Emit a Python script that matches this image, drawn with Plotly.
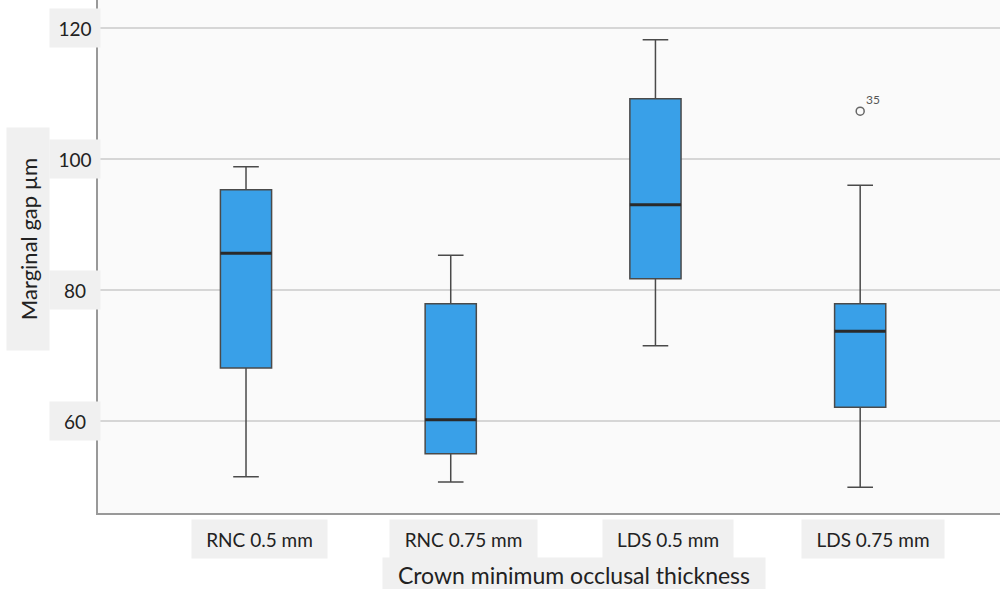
import plotly.graph_objects as go

# ---- data ----
categories = ["RNC 0.5 mm", "RNC 0.75 mm", "LDS 0.5 mm", "LDS 0.75 mm"]
lower_whisker = [51.5, 50.7, 71.5, 49.9]
q1_values = [68.1, 55.0, 81.7, 62.1]
median_values = [85.6, 60.2, 93.0, 73.7]
q3_values = [95.3, 77.9, 109.2, 77.9]
upper_whisker = [98.8, 85.3, 118.2, 96.0]
outlier_group = [3]
outlier_values = [107.3]
outlier_labels = ["35"]
y_ticks = [60, 80, 100, 120]

# ---- styles ----
FONT = "Lato"
BOX_FILL = "#39a0e8"
BOX_LINE = "#4a4a4a"
LABEL_BG = "#f0f0f0"
BOX_W = 0.25
xlabel_widths = [135, 147, 130, 142]

fig = go.Figure()

positions = list(range(len(categories)))
for i, name in enumerate(categories):
    fig.add_trace(go.Box(
        x=[positions[i]],
        q1=[q1_values[i]], median=[median_values[i]], q3=[q3_values[i]],
        lowerfence=[lower_whisker[i]], upperfence=[upper_whisker[i]],
        width=BOX_W, whiskerwidth=0.5,
        fillcolor=BOX_FILL,
        line=dict(color=BOX_LINE, width=1.5),
        boxpoints=False, name=name, showlegend=False, hoverinfo="skip",
    ))
    # thicker median line
    fig.add_trace(go.Scatter(
        x=[positions[i] - BOX_W / 2, positions[i] + BOX_W / 2],
        y=[median_values[i], median_values[i]],
        mode="lines", line=dict(color="#2a2a2a", width=3),
        showlegend=False, hoverinfo="skip",
    ))

fig.add_trace(go.Scatter(
    x=outlier_group, y=outlier_values, mode="markers",
    marker=dict(symbol="circle-open", size=8, color="#666666",
                line=dict(width=1.5, color="#666666")),
    showlegend=False, hoverinfo="skip",
))

annotations = []
for gx, gy, lab in zip(outlier_group, outlier_values, outlier_labels):
    annotations.append(dict(x=gx, y=gy, xref="x", yref="y", text=lab,
                            showarrow=False, xshift=13, yshift=12,
                            font=dict(family=FONT, size=12, color="#555555")))

# y tick labels with grey backgrounds
for t in y_ticks:
    annotations.append(dict(x=0, y=t, xref="paper", yref="y", text=str(t),
                            showarrow=False, xanchor="center", yanchor="middle",
                            xshift=-23, width=50, height=38, borderpad=0,
                            bgcolor=LABEL_BG,
                            font=dict(family=FONT, size=19, color="#222222")))

# x tick labels with grey backgrounds
for i, c in enumerate(categories):
    annotations.append(dict(x=positions[i], y=0, xref="x", yref="paper", text=c,
                            showarrow=False, xanchor="center", yanchor="middle",
                            xshift=13, yshift=-26, width=xlabel_widths[i], height=38,
                            borderpad=0, bgcolor=LABEL_BG,
                            font=dict(family=FONT, size=19, color="#222222")))

# axis titles
annotations.append(dict(x=0, y=0, xref="paper", yref="paper",
                        text="Crown minimum occlusal thickness",
                        showarrow=False, xanchor="center", yanchor="middle",
                        xshift=574 - 98, yshift=-(575 - 513), width=382, height=34,
                        borderpad=0, bgcolor=LABEL_BG,
                        font=dict(family=FONT, size=23, color="#222222")))
annotations.append(dict(x=0, y=0.5, xref="paper", yref="paper",
                        text="Marginal gap µm", textangle=-90,
                        showarrow=False, xanchor="center", yanchor="middle",
                        xshift=28 - 98, yshift=513 / 2 - 239,
                        width=222, height=42, borderpad=0, bgcolor=LABEL_BG,
                        font=dict(family=FONT, size=22, color="#222222")))

fig.update_layout(
    width=1000, height=589,
    margin=dict(l=98, r=0, t=0, b=76),
    paper_bgcolor="white", plot_bgcolor="#fafafa",
    font=dict(family=FONT),
    annotations=annotations,
    xaxis=dict(range=[-0.723, 3.683], showticklabels=False, showgrid=False,
               zeroline=False, showline=True, linecolor="#999999", linewidth=1.5,
               ticks=""),
    yaxis=dict(range=[45.95, 124.27], tickvals=y_ticks, showticklabels=False,
               showgrid=True, gridcolor="#d6d6d6", gridwidth=1.5,
               zeroline=False, showline=True, linecolor="#999999", linewidth=1.5,
               ticks=""),
)

fig.write_html("out.html", post_script="document.body.style.margin='0';",
               config={"displayModeBar": False})
